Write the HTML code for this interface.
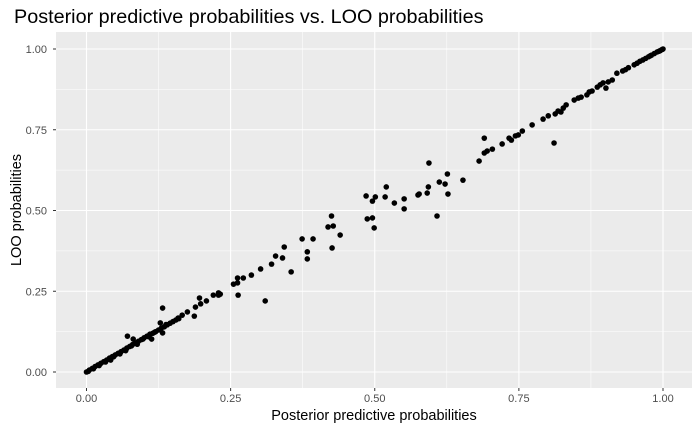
<!DOCTYPE html>
<html><head><meta charset="utf-8"><style>
body{margin:0;background:#fff;width:700px;height:432px;overflow:hidden}
svg{font-family:"Liberation Sans",sans-serif}
</style></head><body>
<svg id="chart" width="700" height="432">
<text x="14" y="23" font-size="19.8" fill="#000">Posterior predictive probabilities vs. LOO probabilities</text>
<rect x="56" y="32" width="636" height="356" fill="#EBEBEB"/>
<g id="grid"></g>
<g id="pts"></g>
<g id="axes"></g>
<text x="374" y="420" font-size="14.5" text-anchor="middle" fill="#000">Posterior predictive probabilities</text>
<text transform="translate(21,210) rotate(-90)" font-size="14.5" text-anchor="middle" fill="#000">LOO probabilities</text>
</svg>
<script>
const tickValues=[0,0.25,0.5,0.75,1];
const tickLabels=["0.00","0.25","0.50","0.75","1.00"];
const minorValues=[0.125,0.375,0.625,0.875];
const xVals=[0,0.005,0.01,0.015,0.02,0.025,0.03,0.035,0.04,0.045,0.05,0.055,0.06,0.065,0.07,0.075,0.08,0.085,0.09,0.095,0.1,0.105,0.11,0.115,0.12,0.125,0.13,0.135,0.14,0.145,0.15,0.155,0.16,0.003,0.012,0.022,0.033,0.047,0.058,0.068,0.078,0.088,0.098,0.108,0.118,0.128,0.138,
0.071,0.132,0.132,0.113,0.128,0.042,0.081,0.159,0.166,0.175,0.187,0.189,0.196,0.198,0.208,0.220,0.229,0.229,
0.232,0.255,0.262,0.262,0.272,0.263,0.286,0.302,0.310,0.321,0.328,0.343,0.340,0.355,0.374,0.383,0.383,0.393,0.419,0.425,0.428,0.440,0.426,0.485,0.487,0.496,0.499,0.496,0.501,0.520,0.518,0.534,0.551,0.551,0.575,0.577,0.591,0.593,0.594,0.608,0.612,0.622,0.626,0.627,0.653,0.681,
0.690,0.690,0.695,0.704,0.721,0.733,0.737,0.744,0.749,0.756,0.773,0.792,0.801,0.811,0.813,0.818,0.823,0.827,0.832,0.846,0.853,0.858,0.868,0.872,0.877,0.886,0.891,0.896,0.901,0.905,0.912,
0.92,0.93,0.935,0.94,0.95,0.955,0.96,0.965,0.97,0.975,0.98,0.985,0.99,0.995,1.0,0.998,0.993,0.978];
const yVals=[0,0.006,0.011,0.017,0.022,0.027,0.032,0.037,0.043,0.048,0.053,0.058,0.063,0.068,0.074,0.079,0.085,0.09,0.095,0.1,0.106,0.111,0.117,0.12,0.125,0.13,0.136,0.14,0.146,0.151,0.156,0.161,0.165,0.002,0.01,0.02,0.031,0.047,0.056,0.066,0.081,0.086,0.102,0.109,0.123,0.131,0.147,
0.111,0.198,0.121,0.102,0.152,0.037,0.102,0.167,0.176,0.186,0.173,0.201,0.229,0.211,0.220,0.238,0.245,0.238,
0.241,0.272,0.276,0.291,0.291,0.238,0.300,0.319,0.220,0.334,0.359,0.387,0.353,0.310,0.412,0.372,0.350,0.412,0.449,0.483,0.452,0.424,0.384,0.545,0.474,0.477,0.446,0.529,0.542,0.573,0.542,0.523,0.536,0.505,0.548,0.551,0.554,0.573,0.647,0.483,0.588,0.582,0.613,0.551,0.594,0.653,
0.724,0.678,0.684,0.690,0.706,0.724,0.718,0.731,0.734,0.746,0.765,0.783,0.793,0.709,0.799,0.808,0.805,0.817,0.827,0.842,0.848,0.851,0.858,0.867,0.870,0.882,0.889,0.895,0.879,0.898,0.904,
0.925,0.932,0.936,0.942,0.951,0.956,0.962,0.966,0.971,0.976,0.981,0.986,0.991,0.995,1.0,0.998,0.993,0.979];
const NS='http://www.w3.org/2000/svg';
const X0=86.5,X1=663,Y0=372,Y1=49;
function sx(v){return X0+(X1-X0)*v;}
function sy(v){return Y0-(Y0-Y1)*v;}
function mk(t,a,p){const e=document.createElementNS(NS,t);for(const k in a)e.setAttribute(k,a[k]);p.appendChild(e);return e;}
const grid=document.getElementById('grid'),pts=document.getElementById('pts'),axes=document.getElementById('axes');
minorValues.forEach(v=>{
 let l=mk('line',{x1:sx(v),x2:sx(v),y1:32,y2:388,stroke:'#fff','stroke-width':0.55},grid);
 
 
 let m=mk('line',{x1:56,x2:692,y1:sy(v),y2:sy(v),stroke:'#fff','stroke-width':0.55},grid);
 
 
});
tickValues.forEach((v,i)=>{
 let l=mk('line',{x1:sx(v),x2:sx(v),y1:32,y2:388,stroke:'#fff','stroke-width':1.1},grid);
 
 
 let m=mk('line',{x1:56,x2:692,y1:sy(v),y2:sy(v),stroke:'#fff','stroke-width':1.1},grid);
 
 
 let tx=mk('line',{x1:sx(v),x2:sx(v),y1:388,y2:391,stroke:'#333','stroke-width':1},axes);
 
 
 let ty=mk('line',{x1:53,x2:56,y1:sy(v),y2:sy(v),stroke:'#333','stroke-width':1},axes);
 
 
 let lx=mk('text',{x:sx(v),y:402,'font-size':11,'text-anchor':'middle',fill:'#4D4D4D'},axes);
 lx.textContent=tickLabels[i];
 
 
 let ly=mk('text',{x:47,y:sy(v)+4,'font-size':11,'text-anchor':'end',fill:'#4D4D4D'},axes);
 ly.textContent=tickLabels[i];
 
 
});
xVals.forEach((v,i)=>{
 let c=mk('circle',{cx:sx(v),cy:sy(yVals[i]),r:2.8,fill:'#000'},pts);
 
 
});
</script>
</body></html>
